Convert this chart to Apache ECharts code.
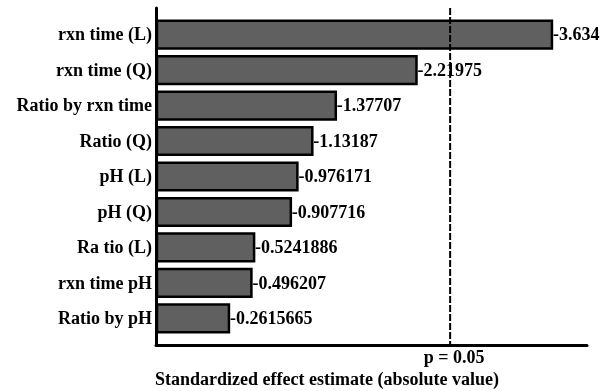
<!DOCTYPE html>
<html>
<head>
<meta charset="utf-8">
<script src="https://cdn.jsdelivr.net/npm/echarts@6/dist/echarts.min.js"></script>
<style>html,body{margin:0;padding:0;background:#fff}#c{width:609px;height:391px}</style>
</head>
<body>
<div id="c"></div>
<script>
var categories = ["rxn time (L)", "rxn time (Q)", "Ratio by rxn time", "Ratio (Q)", "pH (L)", "pH (Q)", "Ra tio (L)", "rxn time pH", "Ratio by pH"];
var effects = [-3.634, -2.21975, -1.37707, -1.13187, -0.976171, -0.907716, -0.5241886, -0.496207, -0.2615665];
var critT = 2.571;
var critLabel = "p = 0.05";
var xTitle = "Standardized effect estimate (absolute value)";

var X_MIN = -0.5, X_MAX = 4;
var FONT = "'Liberation Serif', 'Times New Roman', serif";
var FS = 18;
var FW = 'bold';

var chart = echarts.init(document.getElementById('c'), null, {renderer: 'canvas'});
var seriesData = effects.map(function (v, i) { return [Math.abs(v), i, v]; });

chart.setOption({
  animation: false,
  backgroundColor: '#ffffff',
  title: {
    text: xTitle, left: 150, top: 366,
    textStyle: {fontFamily: FONT, fontSize: FS, fontWeight: FW, color: '#000'}
  },
  grid: {left: 156, right: 22, top: 8, bottom: 46, containLabel: false},
  xAxis: {
    type: 'value', min: X_MIN, max: X_MAX,
    axisLine: {show: true, onZero: false, lineStyle: {color: '#000', width: 3}},
    axisTick: {show: false},
    splitLine: {show: false},
    axisLabel: {
      show: true, customValues: [critT], margin: 4,
      formatter: function () { return critLabel; },
      fontFamily: FONT, fontSize: FS, fontWeight: FW, color: '#000', padding: [0, 0, 0, 8]
    }
  },
  yAxis: {
    type: 'value', inverse: true, min: -0.75, max: 8.75,
    axisLine: {show: true, onZero: false, lineStyle: {color: '#000', width: 3}},
    axisTick: {show: false}, axisLabel: {show: false}, splitLine: {show: false}
  },
  series: [
    {
      type: 'custom',
      data: seriesData,
      encode: {x: 0, y: 1},
      clip: false,
      renderItem: function (params, api) {
        var v = api.value(0), idx = api.value(1), raw = api.value(2);
        var p0 = api.coord([X_MIN, idx]);
        var p1 = api.coord([v, idx]);
        var h = api.size([0, 1])[1] * 0.78;
        return {
          type: 'group',
          children: [
            {
              type: 'rect',
              shape: {x: p0[0] + 1, y: p0[1] - h / 2, width: p1[0] - p0[0] - 1, height: h},
              style: {fill: '#606060', stroke: '#000', lineWidth: 2.5}
            },
            {
              type: 'text',
              x: p0[0] - 4, y: p0[1] + 1,
              style: {text: categories[idx], fontFamily: FONT, fontSize: FS, fontWeight: FW, fill: '#000', align: 'right', verticalAlign: 'middle'}
            },
            {
              type: 'text',
              x: p1[0] + 1, y: p1[1] + 1,
              style: {text: String(raw), fontFamily: FONT, fontSize: FS, fontWeight: FW, fill: '#000', align: 'left', verticalAlign: 'middle'}
            }
          ]
        };
      }
    },
    {
      type: 'line',
      data: [[critT, -0.75], [critT, 8.75]],
      symbol: 'none',
      lineStyle: {color: '#000', width: 2, type: [7, 2]},
      z: 5
    }
  ]
});
</script>
</body>
</html>
